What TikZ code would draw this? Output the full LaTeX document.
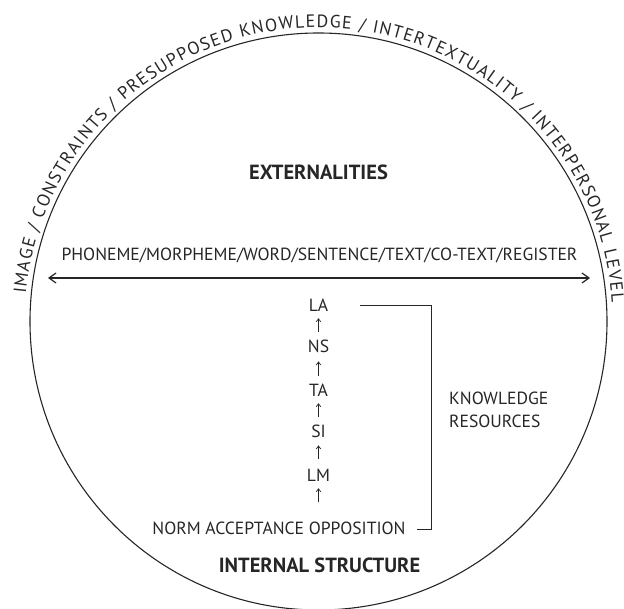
\documentclass[tikz,border=0pt]{standalone}
\usepackage{fontspec}
\setmainfont{PT Sans}
\usetikzlibrary{arrows.meta,decorations.text}
\definecolor{ink}{HTML}{262626}
\newcommand\arcfnt{\fontsize{17.8}{20}\selectfont}
\begin{document}
\begin{tikzpicture}[x=1pt,y=1pt,
  lbl/.style={font=\fontsize{17.6}{20}\selectfont, text=ink, inner sep=2pt, anchor=base},
  ttl/.style={font=\fontsize{20.5}{23}\selectfont\bfseries, text=ink, inner sep=2pt, anchor=base},
  up/.style={-{Straight Barb[length=3pt,width=4.5pt]}, line width=0.7pt, draw=ink},
  dbl/.style={{Straight Barb[length=7pt,width=10pt]}-{Straight Barb[length=7pt,width=10pt]}, line width=1.2pt, draw=ink},
  brk/.style={line width=0.9pt, draw=ink},
  ring/.style={line width=1.1pt, draw=ink}]
\useasboundingbox (0,0) rectangle (624,608);
\coordinate (C) at (318.5,286.5);
\draw[ring] (C) circle[radius=288.5];
\path[decorate, decoration={text along path, text align=fit to path, text color=ink,
  text={|\arcfnt|IMAGE / CONSTRAINTS / PRESUPPOSED KNOWLEDGE / INTERTEXTUALITY / INTERPERSONAL LEVEL}}]
  ([shift={(174.6:294)}]C) arc[start angle=174.6, end angle=3.8, radius=294];
\node[ttl] (ext) at (318.5,428) {EXTERNALITIES};
\node[lbl] (scale) at (319.5,347) {PHONEME/MORPHEME/WORD/SENTENCE/TEXT/CO-TEXT/REGISTER};
\coordinate (al) at (48,330);
\coordinate (ar) at (590,330);
\draw[dbl] (al) -- (ar);
\node[lbl] (LA) at (318.5,296) {LA};
\node[lbl] (NS) at (318.5,255) {NS};
\node[lbl] (TA) at (318.5,211) {TA};
\node[lbl] (SI) at (318.5,170) {SI};
\node[lbl] (LM) at (318.5,126) {LM};
\node[lbl] (NAO) at (279,73) {NORM ACCEPTANCE OPPOSITION};
\draw[up, shorten <=6pt, shorten >=4pt] (NS) -- (LA);
\draw[up, shorten <=6pt, shorten >=6pt] (TA) -- (NS);
\draw[up, shorten <=6pt, shorten >=4pt] (SI) -- (TA);
\draw[up, shorten <=8pt, shorten >=5pt] (LM) -- (SI);
\draw[up, shorten <=18pt, shorten >=4pt] (NAO.north -| LM.south) -- (LM.south);
\coordinate (b1) at (360,303);
\coordinate (b2) at (431,303);
\coordinate (b4) at (417,79);
\draw[brk] (b1) -- (b2) |- (b4);
\node[lbl, anchor=base west] (kr1) at (447,203) {KNOWLEDGE};
\node[lbl, anchor=base west] (kr2) at (447,180) {RESOURCES};
\node[ttl] (int) at (319.5,35) {INTERNAL STRUCTURE};
\end{tikzpicture}
\end{document}
